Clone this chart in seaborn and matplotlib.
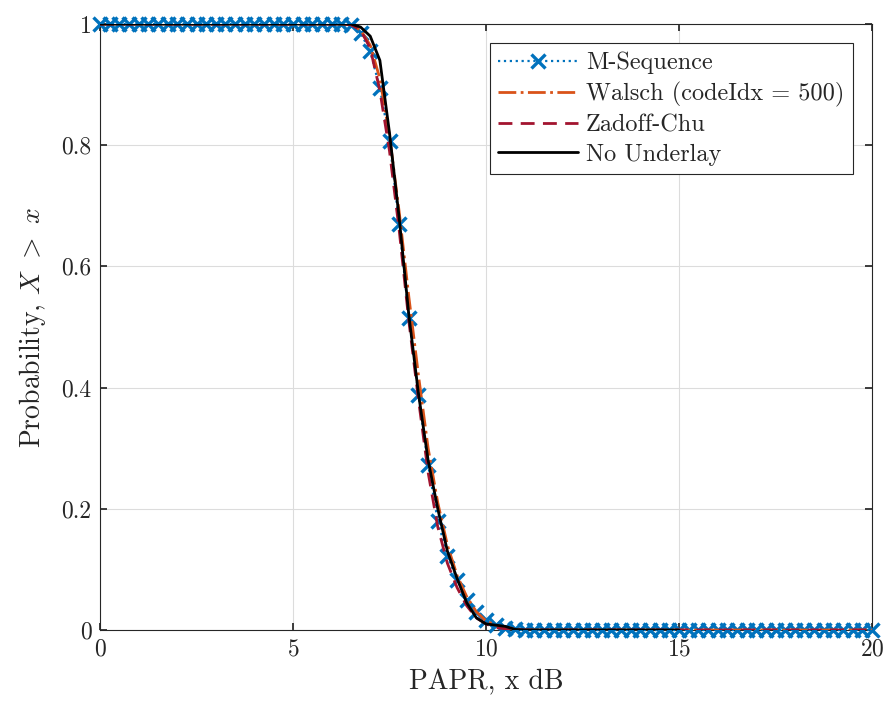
import numpy as np
import matplotlib
matplotlib.use("Agg")
import matplotlib.pyplot as plt
import seaborn as sns

# PAPR grid (dB), step 0.25
papr_db = np.arange(0, 20.001, 0.25)
papr_db_nu = papr_db[papr_db <= 15.0001]

# CCDF values, one per grid point
m_seq = [1.0, 1.0, 1.0, 1.0, 1.0, 1.0, 1.0, 1.0, 1.0, 1.0,
         1.0, 1.0, 1.0, 1.0, 1.0, 1.0, 1.0, 1.0, 1.0, 1.0,
         1.0, 1.0, 1.0, 1.0, 1.0, 1.0, 0.998, 0.985, 0.955, 0.894,
         0.807, 0.67, 0.515, 0.388, 0.272, 0.18, 0.122, 0.083, 0.05, 0.03,
         0.017, 0.008, 0.003, 0.001, 0.0, 0.0, 0.0, 0.0, 0.0, 0.0,
         0.0, 0.0, 0.0, 0.0, 0.0, 0.0, 0.0, 0.0, 0.0, 0.0,
         0.0, 0.0, 0.0, 0.0, 0.0, 0.0, 0.0, 0.0, 0.0, 0.0,
         0.0, 0.0, 0.0, 0.0, 0.0, 0.0, 0.0, 0.0, 0.0, 0.0,
         0.0]
walsch = [1.0, 1.0, 1.0, 1.0, 1.0, 1.0, 1.0, 1.0, 1.0, 1.0,
          1.0, 1.0, 1.0, 1.0, 1.0, 1.0, 1.0, 1.0, 1.0, 1.0,
          1.0, 1.0, 1.0, 1.0, 1.0, 1.0, 0.999, 0.99, 0.965, 0.91,
          0.815, 0.69, 0.55, 0.42, 0.30, 0.21, 0.14, 0.09, 0.055, 0.03,
          0.015, 0.008, 0.004, 0.002, 0.0, 0.0, 0.0, 0.0, 0.0, 0.0,
          0.0, 0.0, 0.0, 0.0, 0.0, 0.0, 0.0, 0.0, 0.0, 0.0,
          0.0, 0.0, 0.0, 0.0, 0.0, 0.0, 0.0, 0.0, 0.0, 0.0,
          0.0, 0.0, 0.0, 0.0, 0.0, 0.0, 0.0, 0.0, 0.0, 0.0,
          0.0]
zadoff_chu = [1.0, 1.0, 1.0, 1.0, 1.0, 1.0, 1.0, 1.0, 1.0, 1.0,
              1.0, 1.0, 1.0, 1.0, 1.0, 1.0, 1.0, 1.0, 1.0, 1.0,
              1.0, 1.0, 1.0, 1.0, 1.0, 1.0, 0.999, 0.99, 0.96, 0.89,
              0.79, 0.66, 0.51, 0.38, 0.26, 0.17, 0.11, 0.07, 0.04, 0.02,
              0.01, 0.004, 0.002, 0.001, 0.0, 0.0, 0.0, 0.0, 0.0, 0.0,
              0.0, 0.0, 0.0, 0.0, 0.0, 0.0, 0.0, 0.0, 0.0, 0.0,
              0.0, 0.0, 0.0, 0.0, 0.0, 0.0, 0.0, 0.0, 0.0, 0.0,
              0.0, 0.0, 0.0, 0.0, 0.0, 0.0, 0.0, 0.0, 0.0, 0.0,
              0.0]
no_underlay = [1.0, 1.0, 1.0, 1.0, 1.0, 1.0, 1.0, 1.0, 1.0, 1.0,
               1.0, 1.0, 1.0, 1.0, 1.0, 1.0, 1.0, 1.0, 1.0, 1.0,
               1.0, 1.0, 1.0, 1.0, 1.0, 1.0, 1.0, 0.995, 0.98, 0.94,
               0.82, 0.68, 0.52, 0.39, 0.28, 0.20, 0.13, 0.085, 0.045, 0.02,
               0.01, 0.008, 0.006, 0.001, 0.0, 0.0, 0.0, 0.0, 0.0, 0.0,
               0.0, 0.0, 0.0, 0.0, 0.0, 0.0, 0.0, 0.0, 0.0, 0.0,
               0.0]

sns.set_theme(style="ticks")
plt.rcParams['font.family'] = 'serif'
plt.rcParams['font.serif'] = ['cmr10', 'DejaVu Serif']
plt.rcParams['mathtext.fontset'] = 'cm'
plt.rcParams['axes.formatter.use_mathtext'] = True

fig = plt.figure(figsize=(8.9, 7.13), dpi=100)
ax = fig.add_axes([0.1124, 0.1164, 0.8674, 0.8499])

sns.lineplot(x=papr_db, y=m_seq, ax=ax, color='#0072BD', linestyle=':',
             linewidth=1.6, marker='x', markersize=10, markeredgewidth=2.4,
             markeredgecolor='#0072BD', label='M-Sequence', clip_on=False,
             zorder=3)
sns.lineplot(x=papr_db, y=walsch, ax=ax, color='#D95319', linestyle='-.',
             linewidth=2.0, label='Walsch (codeIdx = 500)', zorder=4)
sns.lineplot(x=papr_db, y=zadoff_chu, ax=ax, color='#A2142F', linestyle=(0, (5, 3)),
             linewidth=2.0, label='Zadoff-Chu', zorder=5)
sns.lineplot(x=papr_db_nu, y=no_underlay, ax=ax, color='black', linestyle='-',
             linewidth=2.0, label='No Underlay', zorder=6)

ax.set_xlim(0, 20)
ax.set_ylim(0, 1)
ax.set_xticks([0, 5, 10, 15, 20])
ax.set_yticks([0, 0.2, 0.4, 0.6, 0.8, 1])
ax.set_yticklabels(['0', '0.2', '0.4', '0.6', '0.8', '1'])
ax.grid(True, color='#dcdcdc', linewidth=0.8)
ax.set_axisbelow(True)
for s in ax.spines.values():
    s.set_color('#262626')
    s.set_linewidth(0.8)
ax.tick_params(direction='in', top=True, right=True, labelsize=17,
               colors='#262626', length=5, pad=6)
ax.set_xlabel('PAPR, x dB', fontsize=20, labelpad=6)
ax.set_ylabel('Probability, $X\\ >\\ x$', fontsize=20, labelpad=10)

leg = ax.legend(loc='upper right', fontsize=17.5, frameon=True, fancybox=False,
                edgecolor='#262626', framealpha=1, handlelength=3.3,
                borderaxespad=0.8, labelspacing=0.3, handletextpad=0.3,
                borderpad=0.35)
leg.get_frame().set_linewidth(0.8)
leg.set_zorder(10)

fig.savefig('out.png', dpi=100)
